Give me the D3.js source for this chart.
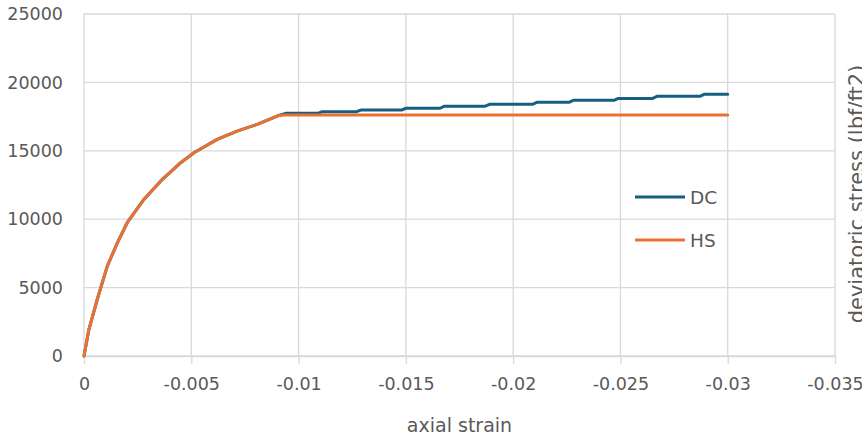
<!DOCTYPE html>
<html>
<head>
<meta charset="utf-8">
<script src="https://cdn.jsdelivr.net/npm/d3@7/dist/d3.min.js"></script>
<style>
  html, body { margin: 0; padding: 0; background: #ffffff; }
  svg { display: block; }
  text { font-family: "DejaVu Sans", sans-serif; fill: #595959; }
</style>
</head>
<body>
<svg id="chart" width="862" height="434"></svg>
<script>
// Loading branch shared by both models (axial strain, deviatoric stress lbf/ft2)
const strainHS = [0, -0.00023, -0.00062, -0.00109, -0.00156, -0.00202, -0.0028, -0.00358,
  -0.00452, -0.00514, -0.00623, -0.00717, -0.0081, -0.00903, -0.0093, -0.03];
const stressHS = [0, 1950, 4150, 6590, 8290, 9760, 11460, 12800,
  14150, 14880, 15850, 16460, 16950, 17560, 17610, 17610];

const strainDC = [0, -0.00023, -0.00062, -0.00109, -0.00156, -0.00202, -0.0028, -0.00358,
  -0.00452, -0.00514, -0.00623, -0.00717, -0.0081, -0.00903, -0.0094,
  -0.0109, -0.0111, -0.0127, -0.0129, -0.0148, -0.0150, -0.0166, -0.0168,
  -0.0187, -0.0189, -0.0209, -0.0211, -0.0226, -0.0228, -0.0247, -0.0249,
  -0.0265, -0.0267, -0.0287, -0.0289, -0.03];
const stressDC = [0, 1950, 4150, 6590, 8290, 9760, 11460, 12800,
  14150, 14880, 15850, 16460, 16950, 17560, 17740,
  17740, 17860, 17860, 17980, 17980, 18110, 18110, 18260,
  18260, 18400, 18400, 18540, 18540, 18690, 18690, 18830,
  18830, 18980, 18980, 19130, 19130];

const xTicks = [0, -0.005, -0.01, -0.015, -0.02, -0.025, -0.03, -0.035];
const xTickLabels = ["0", "-0.005", "-0.01", "-0.015", "-0.02", "-0.025", "-0.03", "-0.035"];
const yTicks = [0, 5000, 10000, 15000, 20000, 25000];
const yTickLabels = ["0", "5000", "10000", "15000", "20000", "25000"];

const seriesNames = ["DC", "HS"];
const seriesColors = ["#156082", "#E97132"];

const svg = d3.select("#chart");
const plot = { left: 84, right: 835, top: 14, bottom: 356 };

const x = d3.scaleLinear().domain([0, -0.035]).range([plot.left, plot.right]);
const y = d3.scaleLinear().domain([0, 25000]).range([plot.bottom, plot.top]);

// Gridlines
svg.append("g")
  .selectAll("line")
  .data(xTicks)
  .join("line")
  .attr("x1", d => x(d)).attr("x2", d => x(d))
  .attr("y1", plot.top).attr("y2", plot.bottom)
  .attr("stroke", "#d9d9d9").attr("stroke-width", 1.3);

svg.append("g")
  .selectAll("line")
  .data(yTicks)
  .join("line")
  .attr("x1", plot.left).attr("x2", plot.right)
  .attr("y1", d => y(d)).attr("y2", d => y(d))
  .attr("stroke", "#d9d9d9").attr("stroke-width", 1.3);

// X axis with outward ticks
const xAxis = d3.axisBottom(x)
  .tickValues(xTicks)
  .tickSizeInner(8)
  .tickSizeOuter(0)
  .tickPadding(14)
  .tickFormat((d, i) => xTickLabels[i]);

const gx = svg.append("g")
  .attr("transform", `translate(0,${plot.bottom})`)
  .call(xAxis);
gx.select(".domain").attr("stroke", "#d9d9d9").attr("stroke-width", 1.3);
gx.selectAll(".tick line").attr("stroke", "#d9d9d9").attr("stroke-width", 1.3);
gx.selectAll(".tick text")
  .attr("font-family", "DejaVu Sans, sans-serif")
  .attr("font-size", "17.5px")
  .attr("fill", "#595959");

// Y axis labels only
const yAxis = d3.axisLeft(y)
  .tickValues(yTicks)
  .tickSize(0)
  .tickPadding(21)
  .tickFormat((d, i) => yTickLabels[i]);

const gy = svg.append("g")
  .attr("transform", `translate(${plot.left},0)`)
  .call(yAxis);
gy.select(".domain").remove();
gy.selectAll(".tick text")
  .attr("font-family", "DejaVu Sans, sans-serif")
  .attr("font-size", "17.5px")
  .attr("fill", "#595959");

// Series lines
const line = d3.line().x(d => x(d[0])).y(d => y(d[1]));
const seriesData = [
  d3.zip(strainDC, stressDC),
  d3.zip(strainHS, stressHS)
];

svg.append("g")
  .selectAll("path")
  .data(seriesData)
  .join("path")
  .attr("d", line)
  .attr("fill", "none")
  .attr("stroke", (d, i) => seriesColors[i])
  .attr("stroke-width", 3)
  .attr("stroke-linejoin", "round")
  .attr("stroke-linecap", "round");

// Legend
const legend = svg.append("g").attr("transform", "translate(635,197)");
const items = legend.selectAll("g")
  .data(seriesNames)
  .join("g")
  .attr("transform", (d, i) => `translate(0,${i * 43})`);
items.append("line")
  .attr("x1", 0).attr("x2", 50)
  .attr("stroke", (d, i) => seriesColors[i])
  .attr("stroke-width", 3);
items.append("text")
  .attr("x", 55).attr("y", 0)
  .attr("dy", "0.36em")
  .attr("font-size", "18.5px")
  .text(d => d);

// Axis titles
svg.append("text")
  .attr("x", (plot.left + plot.right) / 2)
  .attr("y", 432)
  .attr("text-anchor", "middle")
  .attr("font-size", "19px")
  .text("axial strain");

svg.append("text")
  .attr("transform", "translate(864,194) rotate(-90)")
  .attr("text-anchor", "middle")
  .attr("font-size", "21px")
  .text("deviatoric stress (lbf/ft2)");
</script>
</body>
</html>
